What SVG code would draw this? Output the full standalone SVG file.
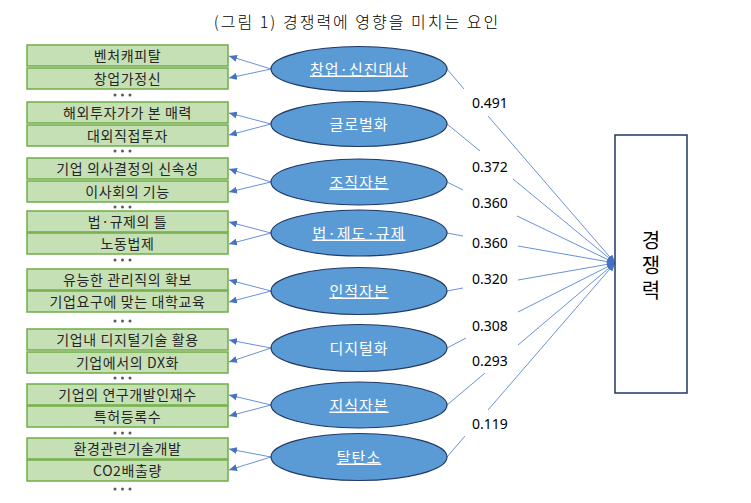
<svg xmlns="http://www.w3.org/2000/svg" width="751" height="503" viewBox="0 0 751 503">
<style>
.title{font-family:"Noto Sans CJK KR","Noto Sans",sans-serif;font-size:16px;font-weight:300;letter-spacing:2px;fill:#000;text-anchor:middle}
.box{fill:#c5e0b4;stroke:#70ad47;stroke-width:1.5}
.bt{font-family:"Noto Sans CJK KR","Noto Sans",sans-serif;font-size:14px;fill:#262626;text-anchor:middle;letter-spacing:0.6px}
.ell{fill:#5b9bd5;stroke:#1f3864;stroke-width:1.2}
.et{font-family:"Noto Sans CJK KR","Noto Sans",sans-serif;font-size:15px;fill:#fff;text-anchor:middle;letter-spacing:1px}
.ul{text-decoration:underline}
.lbl{font-family:"Noto Sans","Noto Sans CJK KR",sans-serif;font-size:14px;fill:#000;text-anchor:middle}
.ln{stroke:#6a91d8;stroke-width:1;fill:none}
.dot{fill:#595959}
.tgt{fill:#fff;stroke:#1f3864;stroke-width:1.5}
.tt{font-family:"Noto Sans CJK KR","Noto Sans",sans-serif;font-size:20px;fill:#000;text-anchor:middle;writing-mode:vertical-rl;letter-spacing:5px}
</style>
<defs>
<marker id="ah" markerUnits="userSpaceOnUse" markerWidth="8" markerHeight="7" refX="8" refY="3.5" orient="auto">
<path d="M0,0 L8,3.5 L0,7 z" fill="#4472c4"/>
</marker>
</defs>
<text class="title" x="357" y="28">(그림 1) 경쟁력에 영향을 미치는 요인</text>

<g id="connectors">
<line class="ln" x1="271" y1="69" x2="229" y2="56" marker-end="url(#ah)"/>
<line class="ln" x1="271" y1="69" x2="229" y2="78" marker-end="url(#ah)"/>
<line class="ln" x1="271" y1="124" x2="229" y2="113" marker-end="url(#ah)"/>
<line class="ln" x1="271" y1="124" x2="229" y2="135" marker-end="url(#ah)"/>
<line class="ln" x1="271" y1="182" x2="229" y2="169" marker-end="url(#ah)"/>
<line class="ln" x1="271" y1="182" x2="229" y2="192" marker-end="url(#ah)"/>
<line class="ln" x1="271" y1="233" x2="229" y2="222" marker-end="url(#ah)"/>
<line class="ln" x1="271" y1="233" x2="229" y2="244" marker-end="url(#ah)"/>
<line class="ln" x1="271" y1="291" x2="229" y2="280" marker-end="url(#ah)"/>
<line class="ln" x1="271" y1="291" x2="229" y2="302" marker-end="url(#ah)"/>
<line class="ln" x1="271" y1="348" x2="229" y2="340" marker-end="url(#ah)"/>
<line class="ln" x1="271" y1="348" x2="229" y2="362" marker-end="url(#ah)"/>
<line class="ln" x1="271" y1="405" x2="229" y2="395" marker-end="url(#ah)"/>
<line class="ln" x1="271" y1="405" x2="229" y2="416" marker-end="url(#ah)"/>
<line class="ln" x1="271" y1="457" x2="229" y2="449" marker-end="url(#ah)"/>
<line class="ln" x1="271" y1="457" x2="229" y2="470" marker-end="url(#ah)"/>

<line class="ln" x1="447" y1="69" x2="464" y2="89"/>
<line class="ln" x1="488" y1="116" x2="615" y2="263" marker-end="url(#ah)"/>
<line class="ln" x1="447" y1="124" x2="480" y2="151"/>
<line class="ln" x1="513" y1="179" x2="615" y2="263" marker-end="url(#ah)"/>
<line class="ln" x1="447" y1="182" x2="463" y2="190"/>
<line class="ln" x1="517" y1="216" x2="615" y2="263" marker-end="url(#ah)"/>
<line class="ln" x1="447" y1="233" x2="463" y2="236"/>
<line class="ln" x1="518" y1="246" x2="615" y2="263" marker-end="url(#ah)"/>
<line class="ln" x1="447" y1="291" x2="463" y2="288"/>
<line class="ln" x1="518" y1="280" x2="615" y2="263" marker-end="url(#ah)"/>
<line class="ln" x1="447" y1="348" x2="466" y2="338"/>
<line class="ln" x1="518" y1="312" x2="615" y2="263" marker-end="url(#ah)"/>
<line class="ln" x1="447" y1="405" x2="485" y2="373"/>
<line class="ln" x1="518" y1="345" x2="615" y2="263" marker-end="url(#ah)"/>
<line class="ln" x1="447" y1="457" x2="465" y2="436"/>
<line class="ln" x1="488" y1="410" x2="615" y2="263" marker-end="url(#ah)"/>
</g>

<g id="labels">
<text class="lbl" x="490" y="108">0.491</text>
<text class="lbl" x="490" y="172">0.372</text>
<text class="lbl" x="490" y="208">0.360</text>
<text class="lbl" x="490" y="248">0.360</text>
<text class="lbl" x="490" y="284">0.320</text>
<text class="lbl" x="490" y="331">0.308</text>
<text class="lbl" x="490" y="366">0.293</text>
<text class="lbl" x="490" y="429">0.119</text>
</g>

<g id="g1">
<rect class="box" x="27" y="45" width="201" height="21"/><text class="bt" x="127.5" y="60.5">벤처캐피탈</text>
<rect class="box" x="27" y="68" width="201" height="21"/><text class="bt" x="127.5" y="83.5">창업가정신</text>
<circle class="dot" cx="115" cy="95" r="1.5"/><circle class="dot" cx="122.5" cy="95" r="1.5"/><circle class="dot" cx="130" cy="95" r="1.5"/>
</g>
<g id="g2">
<rect class="box" x="27" y="102" width="201" height="21"/><text class="bt" x="127.5" y="117.5">해외투자가가 본 매력</text>
<rect class="box" x="27" y="125" width="201" height="21"/><text class="bt" x="127.5" y="140.5">대외직접투자</text>
<circle class="dot" cx="115" cy="151" r="1.5"/><circle class="dot" cx="122.5" cy="151" r="1.5"/><circle class="dot" cx="130" cy="151" r="1.5"/>
</g>
<g id="g3">
<rect class="box" x="27" y="158" width="201" height="21"/><text class="bt" x="127.5" y="173.5">기업 의사결정의 신속성</text>
<rect class="box" x="27" y="181" width="201" height="21"/><text class="bt" x="127.5" y="196.5">이사회의 기능</text>
<circle class="dot" cx="115" cy="207" r="1.5"/><circle class="dot" cx="122.5" cy="207" r="1.5"/><circle class="dot" cx="130" cy="207" r="1.5"/>
</g>
<g id="g4">
<rect class="box" x="27" y="211" width="201" height="21"/><text class="bt" x="127.5" y="226.5">법·규제의 틀</text>
<rect class="box" x="27" y="233" width="201" height="21"/><text class="bt" x="127.5" y="248.5">노동법제</text>
<circle class="dot" cx="115" cy="260" r="1.5"/><circle class="dot" cx="122.5" cy="260" r="1.5"/><circle class="dot" cx="130" cy="260" r="1.5"/>
</g>
<g id="g5">
<rect class="box" x="27" y="269" width="201" height="21"/><text class="bt" x="127.5" y="284.5">유능한 관리직의 확보</text>
<rect class="box" x="27" y="291" width="201" height="21"/><text class="bt" x="127.5" y="306.5">기업요구에 맞는 대학교육</text>
<circle class="dot" cx="115" cy="321" r="1.5"/><circle class="dot" cx="122.5" cy="321" r="1.5"/><circle class="dot" cx="130" cy="321" r="1.5"/>
</g>
<g id="g6">
<rect class="box" x="27" y="329" width="201" height="21"/><text class="bt" x="127.5" y="344.5">기업내 디지털기술 활용</text>
<rect class="box" x="27" y="352" width="201" height="21"/><text class="bt" x="127.5" y="367.5">기업에서의 DX화</text>
<circle class="dot" cx="115" cy="378" r="1.5"/><circle class="dot" cx="122.5" cy="378" r="1.5"/><circle class="dot" cx="130" cy="378" r="1.5"/>
</g>
<g id="g7">
<rect class="box" x="27" y="384" width="201" height="21"/><text class="bt" x="127.5" y="399.5">기업의 연구개발인재수</text>
<rect class="box" x="27" y="406" width="201" height="21"/><text class="bt" x="127.5" y="421.5">특허등록수</text>
<circle class="dot" cx="115" cy="433" r="1.5"/><circle class="dot" cx="122.5" cy="433" r="1.5"/><circle class="dot" cx="130" cy="433" r="1.5"/>
</g>
<g id="g8">
<rect class="box" x="27" y="438" width="201" height="21"/><text class="bt" x="127.5" y="453.5">환경관련기술개발</text>
<rect class="box" x="27" y="460" width="201" height="21"/><text class="bt" x="127.5" y="475.5">CO2배출량</text>
<circle class="dot" cx="115" cy="489" r="1.5"/><circle class="dot" cx="122.5" cy="489" r="1.5"/><circle class="dot" cx="130" cy="489" r="1.5"/>
</g>

<g id="e1"><ellipse class="ell" cx="359" cy="69" rx="88" ry="22.5"/><text class="et ul" x="359" y="74.5">창업·신진대사</text></g>
<g id="e2"><ellipse class="ell" cx="359" cy="124" rx="88" ry="22.5"/><text class="et" x="359" y="129.5">글로벌화</text></g>
<g id="e3"><ellipse class="ell" cx="359" cy="182" rx="88" ry="23"/><text class="et ul" x="359" y="187.5">조직자본</text></g>
<g id="e4"><ellipse class="ell" cx="359" cy="233" rx="88" ry="23"/><text class="et ul" x="359" y="238.5">법·제도·규제</text></g>
<g id="e5"><ellipse class="ell" cx="359" cy="291" rx="88" ry="23.5"/><text class="et ul" x="359" y="296.5">인적자본</text></g>
<g id="e6"><ellipse class="ell" cx="359" cy="348" rx="88" ry="23.5"/><text class="et" x="359" y="353.5">디지털화</text></g>
<g id="e7"><ellipse class="ell" cx="359" cy="405" rx="88" ry="23"/><text class="et ul" x="359" y="410.5">지식자본</text></g>
<g id="e8"><ellipse class="ell" cx="359" cy="457" rx="88" ry="23.5"/><text class="et ul" x="359" y="462.5">탈탄소</text></g>

<g id="target">
<rect class="tgt" x="615" y="135" width="72" height="258"/>
<text class="tt" x="651" y="268">경쟁력</text>
</g>
</svg>
